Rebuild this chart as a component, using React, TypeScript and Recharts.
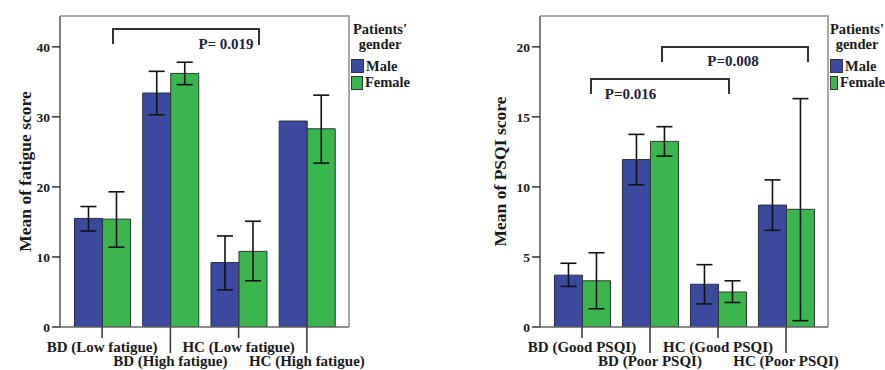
import React from 'react';
import { BarChart, Bar, XAxis, YAxis, ErrorBar, Legend } from 'recharts';

// ---- Data: fatigue chart ----
const fatigueCategories = ['BD (Low fatigue)', 'BD (High fatigue)', 'HC (Low fatigue)', 'HC (High fatigue)'];
const fatigueMale = [15.5, 33.4, 9.2, 29.4];
const fatigueMaleLow: (number | null)[] = [13.7, 30.3, 5.3, null];
const fatigueMaleHigh: (number | null)[] = [17.2, 36.5, 13.0, null];
const fatigueFemale = [15.4, 36.2, 10.8, 28.3];
const fatigueFemaleLow = [11.4, 34.6, 6.6, 23.4];
const fatigueFemaleHigh = [19.3, 37.8, 15.1, 33.1];
const fatigueTicks = [0, 10, 20, 30, 40];

// ---- Data: PSQI chart ----
const psqiCategories = ['BD (Good PSQI)', 'BD (Poor PSQI)', 'HC (Good PSQI)', 'HC (Poor PSQI)'];
const psqiMale = [3.7, 11.95, 3.05, 8.7];
const psqiMaleLow = [2.9, 10.15, 1.65, 6.9];
const psqiMaleHigh = [4.55, 13.75, 4.45, 10.5];
const psqiFemale = [3.3, 13.25, 2.5, 8.4];
const psqiFemaleLow = [1.3, 12.2, 1.75, 0.45];
const psqiFemaleHigh = [5.3, 14.3, 3.3, 16.3];
const psqiTicks = [0, 5, 10, 15, 20];

const legendTitle = ["Patients'", 'gender'];
const seriesNames = { male: 'Male', female: 'Female' };
const legendOrder = [seriesNames.male, seriesNames.female];

const BLUE = '#3b4a9f';
const GREEN = '#3bb54e';
const FONT = "'Liberation Serif', 'Times New Roman', serif";

function err(v: number, lo: number | null, hi: number | null) {
  if (lo == null || hi == null) return null;
  return [v - lo, hi - v];
}

function buildRows(cats: string[], m: number[], mlo: (number | null)[], mhi: (number | null)[], f: number[], flo: (number | null)[], fhi: (number | null)[]) {
  return cats.map((c, i) => ({
    name: c,
    male: m[i],
    female: f[i],
    maleErr: err(m[i], mlo[i], mhi[i]),
    femaleErr: err(f[i], flo[i], fhi[i]),
  }));
}

const fatigueRows = buildRows(fatigueCategories, fatigueMale, fatigueMaleLow, fatigueMaleHigh, fatigueFemale, fatigueFemaleLow, fatigueFemaleHigh);
const psqiRows = buildRows(psqiCategories, psqiMale, psqiMaleLow, psqiMaleHigh, psqiFemale, psqiFemaleLow, psqiFemaleHigh);

const XTick = (props: any) => {
  const { x, y, payload } = props;
  const idx = props.index ?? payload.index ?? 0;
  const long = idx % 2 === 1;
  return (
    <g>
      <line x1={x} x2={x} y1={y} y2={y + (long ? 26 : 11)} stroke="#333" strokeWidth={1.5} />
      <text x={x} y={y + (long ? 38.5 : 24.5)} textAnchor="middle" fontFamily={FONT} fontWeight="bold" fontSize={15} fill="#1a1a1a">
        {payload.value}
      </text>
    </g>
  );
};

const yLabel = (text: string, dx: number) => (props: any) => {
  const vb = props.viewBox || { x: 0, y: 16, width: 60, height: 311 };
  const cx = vb.x + dx;
  const cy = vb.y + vb.height / 2;
  return (
    <text x={cx} y={cy} transform={`rotate(-90 ${cx} ${cy})`} textAnchor="middle" dominantBaseline="central" fontFamily={FONT} fontWeight="bold" fontSize={17.5} fill="#1a1a1a">
      {text}
    </text>
  );
};

const LegendBox = (props: any) => {
  const payload = [...(props.payload || [])].sort((a: any, b: any) => legendOrder.indexOf(a.value) - legendOrder.indexOf(b.value));
  return (
    <div style={{ fontFamily: FONT, fontWeight: 'bold', fontSize: 14.5, color: '#1a1a1a', whiteSpace: 'nowrap' }}>
      <div style={{ textAlign: 'center', lineHeight: '15px' }}>
        {legendTitle[0]}
        <br />
        {legendTitle[1]}
      </div>
      <div style={{ height: 6 }} />
      {payload.map((p: any) => (
        <div key={p.value} style={{ display: 'flex', alignItems: 'center', height: 16.5, marginLeft: 1 }}>
          <span style={{ display: 'inline-block', width: 11, height: 12, background: p.color, border: '1px solid #333', marginRight: 2 }} />
          <span>{p.value}</span>
        </div>
      ))}
    </div>
  );
};

const tickStyle = { fontFamily: FONT, fontWeight: 'bold' as const, fontSize: 13.5, fill: '#1a1a1a' };

function Chart(props: { rows: any[]; ticks: number[]; max: number; yTitle: string; yAxisWidth: number; labelDx: number; width: number; marginRight: number; legendLeft: number; legendWidth: number }) {
  const { rows, ticks, max, yTitle, yAxisWidth, labelDx, width, marginRight, legendLeft, legendWidth } = props;
  return (
    <BarChart width={width} height={370} data={rows} margin={{ top: 16, right: marginRight, bottom: 0, left: 0 }} barGap={0} barCategoryGap="9.5%">
      <XAxis dataKey="name" height={43} padding={{ left: 8, right: 8 }} tickLine={false} tickSize={0} tickMargin={0} interval={0} tick={<XTick />} axisLine={{ stroke: '#666', strokeWidth: 1.5 }} />
      <YAxis width={yAxisWidth} domain={[0, max]} ticks={ticks} allowDataOverflow tickSize={8} tickMargin={2} tick={tickStyle} tickLine={{ stroke: '#333', strokeWidth: 1.5 }} axisLine={{ stroke: '#555', strokeWidth: 1.5 }} label={{ value: yTitle, content: yLabel(yTitle, labelDx) }} />
      <Legend layout="horizontal" verticalAlign="middle" align="center" width={legendWidth} itemSorter={null as any} content={<LegendBox />} wrapperStyle={{ left: legendLeft, top: 22, width: legendWidth }} />
      <Bar dataKey="male" name={seriesNames.male} fill={BLUE} stroke="#2a2a40" strokeWidth={1} isAnimationActive={false}>
        <ErrorBar dataKey="maleErr" width={8} stroke="#111" strokeWidth={1.6} />
      </Bar>
      <Bar dataKey="female" name={seriesNames.female} fill={GREEN} stroke="#2a3a2a" strokeWidth={1} isAnimationActive={false}>
        <ErrorBar dataKey="femaleErr" width={8} stroke="#111" strokeWidth={1.6} />
      </Bar>
    </BarChart>
  );
}

const pText = { fontFamily: FONT, fontWeight: 'bold' as const, fontSize: 15, fill: '#23233a', textAnchor: 'middle' as const };

export default function App() {
  return (
    <div style={{ position: 'absolute', left: 0, top: 0, width: 885, height: 370, background: '#fff', overflow: 'hidden' }}>
      <div style={{ position: 'absolute', left: 0, top: 0 }}>
        <Chart rows={fatigueRows} ticks={fatigueTicks} max={44.4} yTitle="Mean of fatigue score" yAxisWidth={60} labelDx={25} width={440} marginRight={91} legendLeft={350} legendWidth={60} />
      </div>
      <div style={{ position: 'absolute', left: 440, top: 0 }}>
        <Chart rows={psqiRows} ticks={psqiTicks} max={22.2} yTitle="Mean of PSQI score" yAxisWidth={100} labelDx={60} width={445} marginRight={57} legendLeft={389} legendWidth={56} />
      </div>
      <svg width={885} height={370} style={{ position: 'absolute', left: 0, top: 0, pointerEvents: 'none' }}>
        {/* plot frames (top & right) */}
        <path d="M60 16 H349 V327" fill="none" stroke="#8a8a8a" strokeWidth={1.5} />
        <path d="M540 16 H828 V327" fill="none" stroke="#8a8a8a" strokeWidth={1.5} />
        {/* significance brackets */}
        <path d="M113 44 V29 H259 V45" fill="none" stroke="#333" strokeWidth={2} />
        <text x={226} y={49} {...pText}>P= 0.019</text>
        <path d="M591 94 V79 H729 V94" fill="none" stroke="#333" strokeWidth={2} />
        <text x={630.5} y={99} {...pText}>P=0.016</text>
        <path d="M662 62 V47 H808 V62" fill="none" stroke="#333" strokeWidth={2} />
        <text x={733} y={66} {...pText}>P=0.008</text>
      </svg>
    </div>
  );
}
